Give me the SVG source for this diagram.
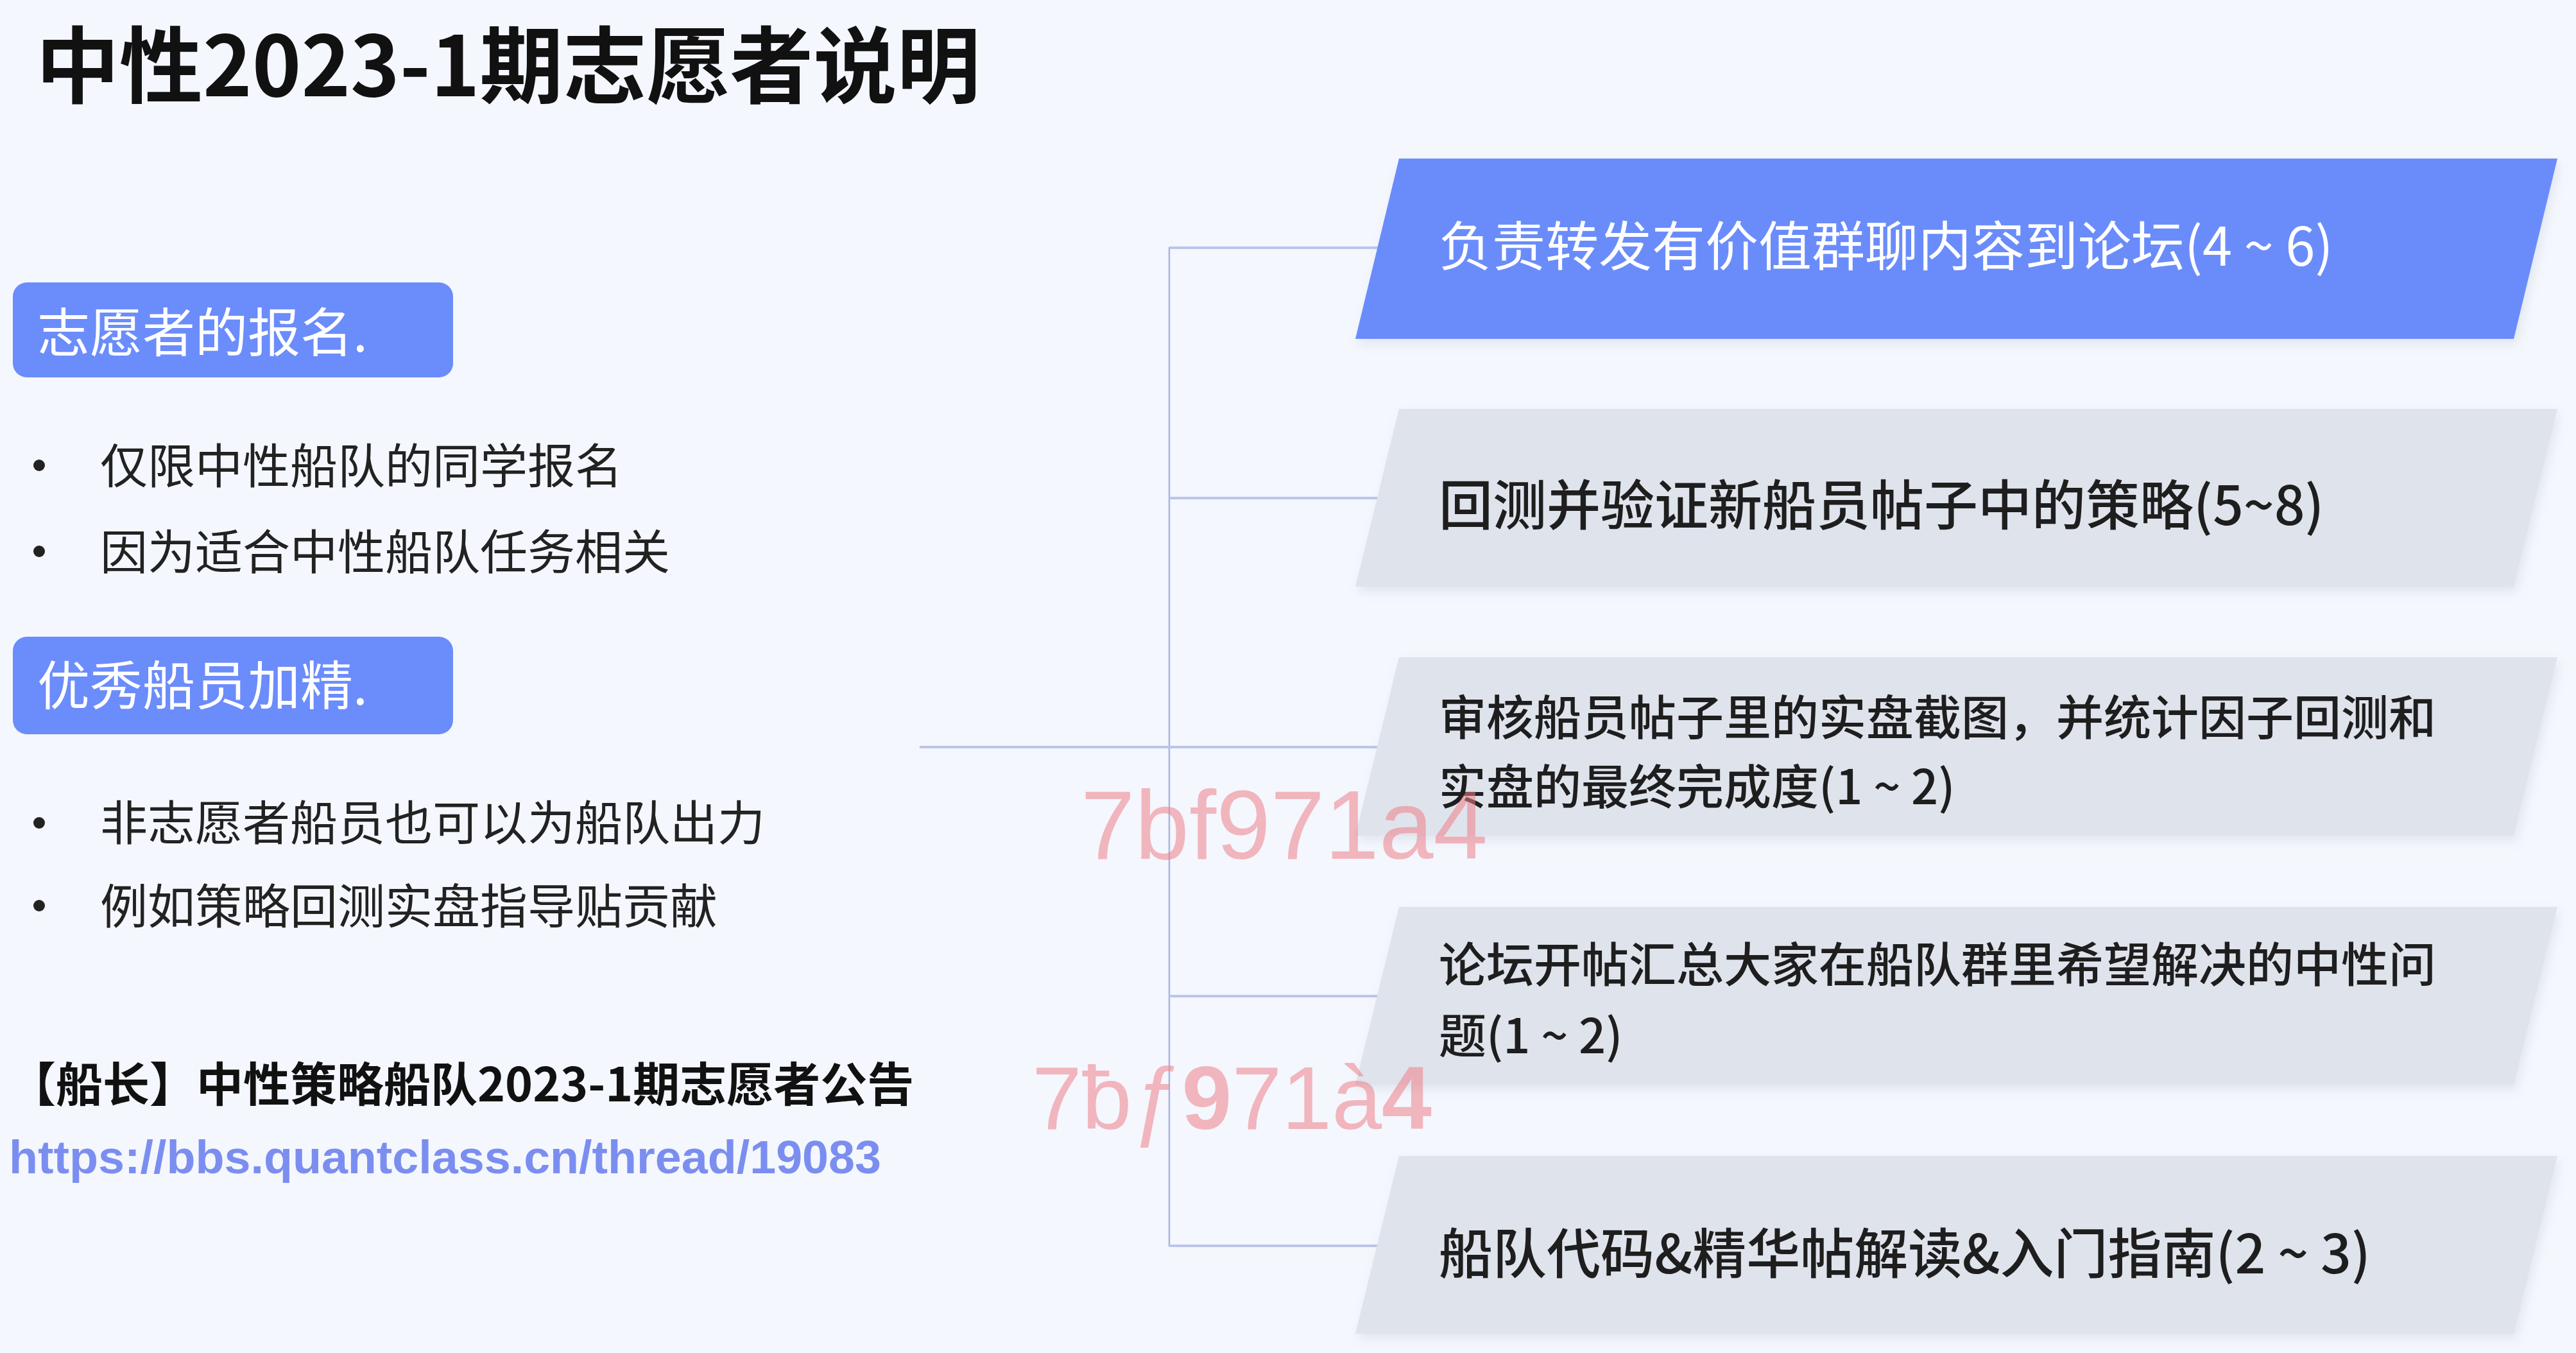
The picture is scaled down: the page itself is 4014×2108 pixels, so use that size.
<svg xmlns="http://www.w3.org/2000/svg" width="4014" height="2108" viewBox="0 0 4014 2108">
<style>
.cjk{font-family:"Noto Sans CJK SC","Noto Sans",sans-serif}
.title{font-size:130px;font-weight:bold;fill:#111}
.tag{fill:#6b8cfb}
.tagt{font-size:82px;fill:#ffffff}
.bul{font-size:74px;fill:#222}
.dot{fill:#222}
.gray{fill:#dfe3ec}
.blue{fill:#6b8cfb}
.nt{font-size:84px;fill:#1e1e1e;font-weight:500}
.nt2{font-size:74px;fill:#1e1e1e;font-weight:500}
.ntw{font-size:83px;fill:#ffffff}
.hl{stroke:#bcc5ea;stroke-width:4;fill:none}
.vl{stroke:#a8b5e0;stroke-width:2.5;fill:none}
.wm{font-family:"Liberation Sans",Arial,sans-serif;fill:#ee7f89;fill-opacity:0.55}
</style>
<defs>
<filter id="sh" x="-5%" y="-10%" width="110%" height="130%">
<feDropShadow dx="4" dy="8" stdDeviation="8" flood-color="#8a94b0" flood-opacity="0.18"/>
</filter>
</defs>
<rect x="0" y="0" width="4014" height="2108" fill="#f4f7fd"/>

<g id="title">
<text class="cjk title" x="56" y="150">中性2023-1期志愿者说明</text>
</g>

<g id="tag-signup">
<rect class="tag" x="20" y="440" width="686" height="148" rx="22"/>
<text class="cjk tagt" x="58" y="548">志愿者的报名.</text>
</g>
<g id="signup-bullets">
<circle class="dot" cx="61" cy="725" r="9"/>
<text class="cjk bul" x="156" y="753">仅限中性船队的同学报名</text>
<circle class="dot" cx="61" cy="859" r="9"/>
<text class="cjk bul" x="156" y="887">因为适合中性船队任务相关</text>
</g>

<g id="tag-excellent">
<rect class="tag" x="20" y="992" width="686" height="152" rx="22"/>
<text class="cjk tagt" x="58" y="1098">优秀船员加精.</text>
</g>
<g id="excellent-bullets">
<circle class="dot" cx="61" cy="1282" r="9"/>
<text class="cjk bul" x="156" y="1309">非志愿者船员也可以为船队出力</text>
<circle class="dot" cx="61" cy="1411" r="9"/>
<text class="cjk bul" x="156" y="1439">例如策略回测实盘指导贴贡献</text>
</g>

<g id="announcement">
<text class="cjk" x="14" y="1716" font-size="73" font-weight="bold" fill="#111">【船长】中性策略船队2023-1期志愿者公告</text>
<text x="14" y="1828" font-family="Liberation Sans, Arial, sans-serif" font-size="72" font-weight="bold" fill="#7b8ef0" textLength="1359" lengthAdjust="spacingAndGlyphs">https://bbs.quantclass.cn/thread/19083</text>
</g>

<g id="connectors">
<line class="vl" x1="1822" y1="385" x2="1822" y2="1942"/>
<line class="hl" x1="1822" y1="386" x2="2150" y2="386"/>
<line class="hl" x1="1822" y1="776" x2="2150" y2="776"/>
<line class="hl" x1="1433" y1="1164" x2="2150" y2="1164"/>
<line class="hl" x1="1822" y1="1552" x2="2150" y2="1552"/>
<line class="hl" x1="1822" y1="1941" x2="2150" y2="1941"/>
</g>

<g id="node1">
<polygon class="blue" filter="url(#sh)" points="2180,247 3985,247 3917,528 2112,528"/>
<text class="cjk ntw" x="2242" y="414">负责转发有价值群聊内容到论坛(4 ~ 6)</text>
</g>
<g id="node2">
<polygon class="gray" filter="url(#sh)" points="2180,637 3985,637 3917,914 2112,914"/>
<text class="cjk nt" x="2242" y="818">回测并验证新船员帖子中的策略(5~8)</text>
</g>
<g id="node3">
<polygon class="gray" filter="url(#sh)" points="2180,1024 3985,1024 3917,1302 2112,1302"/>
<text class="cjk nt2" x="2242" y="1145">审核船员帖子里的实盘截图，并统计因子回测和</text>
<text class="cjk nt2" x="2242" y="1253">实盘的最终完成度(1 ~ 2)</text>
</g>
<g id="node4">
<polygon class="gray" filter="url(#sh)" points="2180,1413 3985,1413 3917,1690 2112,1690"/>
<text class="cjk nt2" x="2242" y="1530">论坛开帖汇总大家在船队群里希望解决的中性问</text>
<text class="cjk nt2" x="2242" y="1641">题(1 ~ 2)</text>
</g>
<g id="node5">
<polygon class="gray" filter="url(#sh)" points="2180,1801 3985,1801 3917,2078 2112,2078"/>
<text class="cjk nt" x="2242" y="1984">船队代码&amp;精华帖解读&amp;入门指南(2 ~ 3)</text>
</g>

<g id="watermarks">
<text class="wm" x="1684" y="1338" font-size="152">7bf971a4</text>
<text class="wm" x="1608" y="1759" font-size="140">7ƀƒ<tspan font-weight="bold">9</tspan>71à<tspan font-weight="bold">4</tspan></text>
</g>
</svg>
